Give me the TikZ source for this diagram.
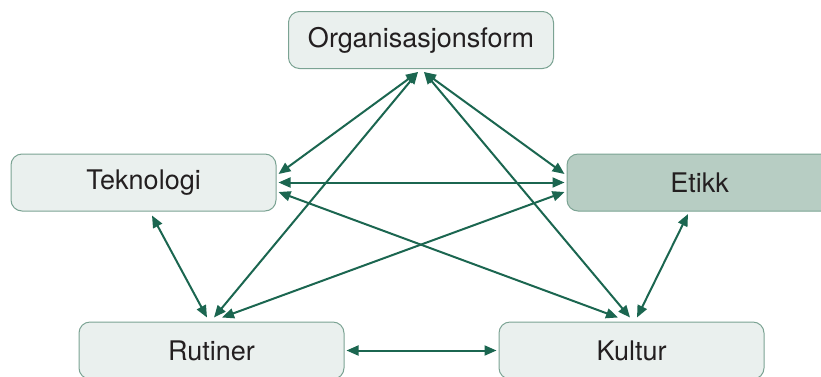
\documentclass[tikz,border=0pt]{standalone}
\usepackage{fontspec}
\setmainfont{TeX Gyre Heros}
\usetikzlibrary{arrows.meta}
\definecolor{boxfill}{HTML}{EAF0EE}
\definecolor{boxline}{HTML}{7BA393}
\definecolor{hlfill}{HTML}{B7CDC3}
\definecolor{linkcol}{HTML}{1B6650}
\definecolor{txtcol}{HTML}{231F20}
\tikzset{
  topic/.style={draw=boxline, fill=boxfill, line width=1pt, rounded corners=11pt,
    minimum width=265pt, minimum height=57pt, inner sep=0pt,
    text=txtcol, font=\fontsize{27}{32}\selectfont},
  highlight/.style={topic, fill=hlfill},
  link/.style={draw=linkcol, line width=2pt,
    {Triangle[length=12pt,width=10pt]}-{Triangle[length=12pt,width=10pt]}}
}
\begin{document}
\begin{tikzpicture}[x=1pt,y=-1pt]
  \useasboundingbox (0,0) rectangle (821,376);
  % the five factors
  \node[topic] (org) at (421,40) {Organisasjonsform};
  \node[topic] (tek) at (143.5,182.5) {Teknologi};
  \node[highlight] (eti) at (699.5,182.5) {Etikk};
  \node[topic] (rut) at (211.5,350.5) {Rutiner};
  \node[topic] (kul) at (631.5,350.5) {Kultur};
  % mutual influences
  \draw[link] ([xshift=-3pt,yshift=-3pt]org.south) -- ([xshift=2pt,yshift=8.5pt]tek.east);
  \draw[link] ([xshift=-3pt,yshift=-3pt]org.south) -- ([xshift=2.5pt,yshift=4pt]rut.north);
  \draw[link] ([xshift=3pt,yshift=-3pt]org.south) -- ([xshift=-2pt,yshift=8.5pt]eti.west);
  \draw[link] ([xshift=3pt,yshift=-3pt]org.south) -- ([xshift=-1.5pt,yshift=4pt]kul.north);
  \draw[link] ([xshift=2pt]tek.east) -- ([xshift=-2pt]eti.west);
  \draw[link] ([xshift=2pt,yshift=-9.5pt]tek.east) -- ([xshift=-13.5pt,yshift=4pt]kul.north);
  \draw[link] ([xshift=-2pt,yshift=-9.5pt]eti.west) -- ([xshift=10.5pt,yshift=4pt]rut.north);
  \draw[link] ([xshift=8.5pt,yshift=-4pt]tek.south) -- ([xshift=-4.5pt,yshift=4pt]rut.north);
  \draw[link] ([xshift=-11.5pt,yshift=-2.5pt]eti.south) -- ([xshift=5.5pt,yshift=4pt]kul.north);
  \draw[link] ([xshift=2pt]rut.east) -- ([xshift=-2pt]kul.west);
\end{tikzpicture}
\end{document}
